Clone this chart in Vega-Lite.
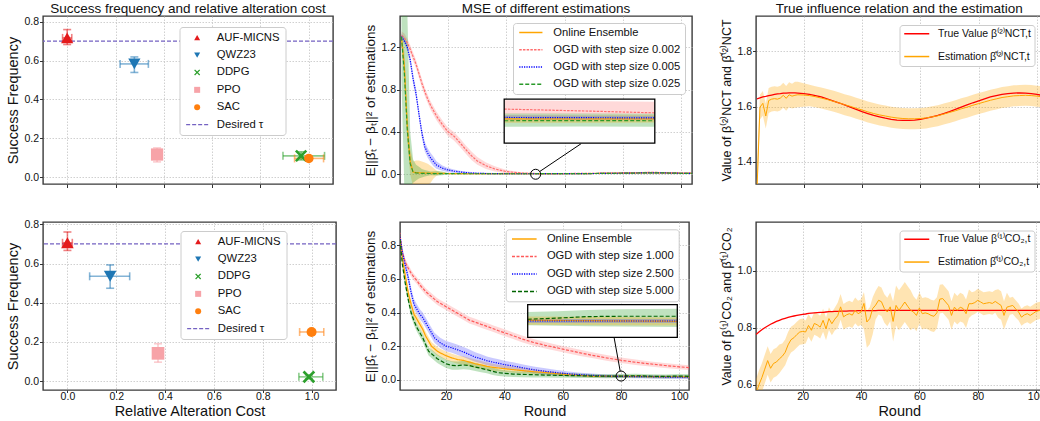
{
"$schema": "https://vega.github.io/schema/vega-lite/v6.json",
"padding": {"left": 5, "top": 0, "right": 0, "bottom": 0},
"background": "white",
"config": {
 "font": "Liberation Sans",
 "view": {"stroke": "#3a3a3a", "strokeWidth": 1.4},
 "axis": {"domain": false, "grid": true, "gridColor": "#c4c4c4", "gridDash": [1.5, 1.5], "gridWidth": 0.8, "ticks": true, "tickSize": 3.5, "tickColor": "#333333", "tickWidth": 1, "labelFontSize": 10.5, "labelColor": "#111111", "labelPadding": 1, "labelFlush": false, "labelOverlap": false, "titleFontSize": 14.5, "titleFontWeight": "normal", "titleColor": "#111111", "titlePadding": 3},
 "title": {"fontSize": 13.5, "fontWeight": "normal", "color": "#111111", "offset": 1, "anchor": "middle"},
 "legend": {"labelFontSize": 11.2, "labelColor": "#111111", "fillColor": "white", "strokeColor": "#cccccc", "cornerRadius": 3, "labelLimit": 300}
},
"datasets": {
 "sc1": [
  {"m":"AUF-MICNS","x":0.0,"y":0.717,"xlo":-0.019,"xhi":0.019,"ylo":0.683,"yhi":0.76},
  {"m":"QWZ23","x":0.278,"y":0.583,"xlo":0.219,"xhi":0.336,"ylo":0.539,"yhi":0.619},
  {"m":"DDPG","x":0.968,"y":0.109,"xlo":0.893,"xhi":1.065,"ylo":0.088,"yhi":0.13},
  {"m":"PPO","x":0.372,"y":0.116,"xlo":0.352,"xhi":0.392,"ylo":0.078,"yhi":0.15},
  {"m":"SAC","x":1.0,"y":0.096,"xlo":0.941,"xhi":1.061,"ylo":0.086,"yhi":0.106}
 ],
 "sc2": [
  {"m":"AUF-MICNS","x":0.0,"y":0.706,"xlo":-0.02,"xhi":0.02,"ylo":0.667,"yhi":0.761},
  {"m":"QWZ23","x":0.175,"y":0.535,"xlo":0.091,"xhi":0.255,"ylo":0.474,"yhi":0.593},
  {"m":"DDPG","x":0.989,"y":0.022,"xlo":0.948,"xhi":1.046,"ylo":0.012,"yhi":0.032},
  {"m":"PPO","x":0.371,"y":0.142,"xlo":0.351,"xhi":0.391,"ylo":0.097,"yhi":0.191},
  {"m":"SAC","x":1.0,"y":0.251,"xlo":0.951,"xhi":1.05,"ylo":0.241,"yhi":0.261}
 ],
 "m1": [
  {"r":4,"s":"OE","v":1.29,"lo":1.24,"hi":1.34},
  {"r":5,"s":"OE","v":1.02,"lo":0.88,"hi":1.16},
  {"r":6,"s":"OE","v":0.45,"lo":0.3,"hi":0.6},
  {"r":7,"s":"OE","v":0.12,"lo":0.0,"hi":0.24},
  {"r":8,"s":"OE","v":0.02,"lo":-0.12,"hi":0.12},
  {"r":9,"s":"OE","v":0.016,"lo":-0.12,"hi":0.13},
  {"r":10,"s":"OE","v":0.014,"lo":-0.12,"hi":0.13},
  {"r":11,"s":"OE","v":0.013,"lo":-0.12,"hi":0.12},
  {"r":12,"s":"OE","v":0.012,"lo":-0.11,"hi":0.11},
  {"r":13,"s":"OE","v":0.011,"lo":-0.1,"hi":0.1},
  {"r":14,"s":"OE","v":0.01,"lo":-0.08,"hi":0.08},
  {"r":15,"s":"OE","v":0.01,"lo":-0.04,"hi":0.06},
  {"r":16,"s":"OE","v":0.009,"lo":-0.015,"hi":0.035},
  {"r":18,"s":"OE","v":0.008,"lo":0.0,"hi":0.016},
  {"r":20,"s":"OE","v":0.007,"lo":0.002,"hi":0.012},
  {"r":22,"s":"OE","v":0.006,"lo":0.002,"hi":0.01},
  {"r":26,"s":"OE","v":0.005,"lo":0.001,"hi":0.009},
  {"r":30,"s":"OE","v":0.005,"lo":0.001,"hi":0.009},
  {"r":40,"s":"OE","v":0.005,"lo":0.001,"hi":0.009},
  {"r":50,"s":"OE","v":0.005,"lo":0.001,"hi":0.009},
  {"r":60,"s":"OE","v":0.006,"lo":0.002,"hi":0.01},
  {"r":70,"s":"OE","v":0.007,"lo":0.003,"hi":0.011},
  {"r":80,"s":"OE","v":0.01,"lo":0.006,"hi":0.014},
  {"r":85,"s":"OE","v":0.012,"lo":0.008,"hi":0.016},
  {"r":90,"s":"OE","v":0.014,"lo":0.01,"hi":0.018},
  {"r":95,"s":"OE","v":0.012,"lo":0.008,"hi":0.016},
  {"r":100,"s":"OE","v":0.009,"lo":0.005,"hi":0.013},
  {"r":104,"s":"OE","v":0.008,"lo":0.004,"hi":0.012},
  {"r":4,"s":"0.002","v":1.31,"lo":1.27,"hi":1.35},
  {"r":5,"s":"0.002","v":1.29,"lo":1.25,"hi":1.33},
  {"r":6,"s":"0.002","v":1.24,"lo":1.2,"hi":1.28},
  {"r":7,"s":"0.002","v":1.18,"lo":1.14,"hi":1.22},
  {"r":8,"s":"0.002","v":1.11,"lo":1.07,"hi":1.15},
  {"r":9,"s":"0.002","v":1.04,"lo":1.0,"hi":1.08},
  {"r":10,"s":"0.002","v":0.95,"lo":0.91,"hi":0.99},
  {"r":11,"s":"0.002","v":0.86,"lo":0.82,"hi":0.9},
  {"r":12,"s":"0.002","v":0.78,"lo":0.74,"hi":0.82},
  {"r":13,"s":"0.002","v":0.71,"lo":0.67,"hi":0.75},
  {"r":14,"s":"0.002","v":0.65,"lo":0.61,"hi":0.69},
  {"r":15,"s":"0.002","v":0.6,"lo":0.56,"hi":0.64},
  {"r":16,"s":"0.002","v":0.55,"lo":0.51,"hi":0.59},
  {"r":18,"s":"0.002","v":0.47,"lo":0.43,"hi":0.51},
  {"r":20,"s":"0.002","v":0.4,"lo":0.36,"hi":0.44},
  {"r":22,"s":"0.002","v":0.36,"lo":0.32,"hi":0.4},
  {"r":24,"s":"0.002","v":0.3,"lo":0.26,"hi":0.34},
  {"r":26,"s":"0.002","v":0.235,"lo":0.195,"hi":0.275},
  {"r":28,"s":"0.002","v":0.175,"lo":0.135,"hi":0.215},
  {"r":30,"s":"0.002","v":0.126,"lo":0.09,"hi":0.162},
  {"r":33,"s":"0.002","v":0.08,"lo":0.05,"hi":0.11},
  {"r":36,"s":"0.002","v":0.05,"lo":0.025,"hi":0.075},
  {"r":40,"s":"0.002","v":0.025,"lo":0.01,"hi":0.04},
  {"r":45,"s":"0.002","v":0.012,"lo":0.004,"hi":0.02},
  {"r":50,"s":"0.002","v":0.007,"lo":0.002,"hi":0.012},
  {"r":55,"s":"0.002","v":0.006,"lo":0.001,"hi":0.011},
  {"r":60,"s":"0.002","v":0.007,"lo":0.002,"hi":0.012},
  {"r":65,"s":"0.002","v":0.008,"lo":0.003,"hi":0.013},
  {"r":70,"s":"0.002","v":0.009,"lo":0.004,"hi":0.014},
  {"r":75,"s":"0.002","v":0.011,"lo":0.006,"hi":0.016},
  {"r":80,"s":"0.002","v":0.013,"lo":0.008,"hi":0.018},
  {"r":85,"s":"0.002","v":0.016,"lo":0.011,"hi":0.021},
  {"r":90,"s":"0.002","v":0.018,"lo":0.013,"hi":0.023},
  {"r":95,"s":"0.002","v":0.015,"lo":0.01,"hi":0.02},
  {"r":100,"s":"0.002","v":0.012,"lo":0.007,"hi":0.017},
  {"r":104,"s":"0.002","v":0.011,"lo":0.006,"hi":0.016},
  {"r":4,"s":"0.005","v":1.3,"lo":1.27,"hi":1.33},
  {"r":5,"s":"0.005","v":1.26,"lo":1.23,"hi":1.29},
  {"r":6,"s":"0.005","v":1.2,"lo":1.17,"hi":1.23},
  {"r":7,"s":"0.005","v":1.08,"lo":1.035,"hi":1.125},
  {"r":8,"s":"0.005","v":0.9,"lo":0.855,"hi":0.945},
  {"r":9,"s":"0.005","v":0.76,"lo":0.715,"hi":0.805},
  {"r":10,"s":"0.005","v":0.57,"lo":0.525,"hi":0.615},
  {"r":11,"s":"0.005","v":0.39,"lo":0.345,"hi":0.435},
  {"r":12,"s":"0.005","v":0.26,"lo":0.215,"hi":0.305},
  {"r":13,"s":"0.005","v":0.2,"lo":0.155,"hi":0.245},
  {"r":14,"s":"0.005","v":0.155,"lo":0.11,"hi":0.2},
  {"r":15,"s":"0.005","v":0.12,"lo":0.075,"hi":0.165},
  {"r":16,"s":"0.005","v":0.088,"lo":0.053,"hi":0.123},
  {"r":18,"s":"0.005","v":0.058,"lo":0.033,"hi":0.083},
  {"r":20,"s":"0.005","v":0.04,"lo":0.02,"hi":0.06},
  {"r":22,"s":"0.005","v":0.03,"lo":0.015,"hi":0.045},
  {"r":24,"s":"0.005","v":0.022,"lo":0.01,"hi":0.034},
  {"r":26,"s":"0.005","v":0.016,"lo":0.006,"hi":0.026},
  {"r":28,"s":"0.005","v":0.012,"lo":0.002,"hi":0.022},
  {"r":30,"s":"0.005","v":0.009,"lo":0.002,"hi":0.016},
  {"r":33,"s":"0.005","v":0.007,"lo":0.0,"hi":0.014},
  {"r":36,"s":"0.005","v":0.006,"lo":0.0,"hi":0.012},
  {"r":40,"s":"0.005","v":0.005,"lo":0.0,"hi":0.01},
  {"r":50,"s":"0.005","v":0.005,"lo":0.0,"hi":0.01},
  {"r":60,"s":"0.005","v":0.006,"lo":0.001,"hi":0.011},
  {"r":70,"s":"0.005","v":0.007,"lo":0.002,"hi":0.012},
  {"r":80,"s":"0.005","v":0.01,"lo":0.005,"hi":0.015},
  {"r":85,"s":"0.005","v":0.012,"lo":0.007,"hi":0.017},
  {"r":90,"s":"0.005","v":0.014,"lo":0.009,"hi":0.019},
  {"r":95,"s":"0.005","v":0.012,"lo":0.007,"hi":0.017},
  {"r":100,"s":"0.005","v":0.009,"lo":0.004,"hi":0.014},
  {"r":104,"s":"0.005","v":0.008,"lo":0.003,"hi":0.013},
  {"r":4,"s":"0.025","v":1.3,"lo":0.9,"hi":1.6},
  {"r":5,"s":"0.025","v":0.95,"lo":-0.15,"hi":1.6},
  {"r":6,"s":"0.025","v":0.42,"lo":-0.15,"hi":1.55},
  {"r":7,"s":"0.025","v":0.1,"lo":-0.12,"hi":0.4},
  {"r":8,"s":"0.025","v":0.02,"lo":-0.08,"hi":0.14},
  {"r":9,"s":"0.025","v":0.012,"lo":-0.06,"hi":0.09},
  {"r":10,"s":"0.025","v":0.01,"lo":-0.04,"hi":0.07},
  {"r":11,"s":"0.025","v":0.009,"lo":-0.03,"hi":0.05},
  {"r":12,"s":"0.025","v":0.008,"lo":-0.02,"hi":0.04},
  {"r":14,"s":"0.025","v":0.007,"lo":-0.01,"hi":0.025},
  {"r":16,"s":"0.025","v":0.006,"lo":-0.012,"hi":0.03},
  {"r":18,"s":"0.025","v":0.006,"lo":-0.01,"hi":0.025},
  {"r":20,"s":"0.025","v":0.006,"lo":0.0,"hi":0.012},
  {"r":26,"s":"0.025","v":0.005,"lo":0.0,"hi":0.01},
  {"r":40,"s":"0.025","v":0.005,"lo":0.0,"hi":0.01},
  {"r":50,"s":"0.025","v":0.005,"lo":0.0,"hi":0.01},
  {"r":60,"s":"0.025","v":0.006,"lo":0.001,"hi":0.011},
  {"r":70,"s":"0.025","v":0.007,"lo":0.002,"hi":0.012},
  {"r":80,"s":"0.025","v":0.01,"lo":0.005,"hi":0.015},
  {"r":85,"s":"0.025","v":0.012,"lo":0.007,"hi":0.017},
  {"r":90,"s":"0.025","v":0.014,"lo":0.009,"hi":0.019},
  {"r":95,"s":"0.025","v":0.012,"lo":0.007,"hi":0.017},
  {"r":100,"s":"0.025","v":0.009,"lo":0.004,"hi":0.014},
  {"r":104,"s":"0.025","v":0.008,"lo":0.003,"hi":0.013}
 ],
 "i1": [
  {"r":45,"s":"0.002","v":0.0155,"lo":0.013,"hi":0.0195},
  {"r":50,"s":"0.002","v":0.0147,"lo":0.0131,"hi":0.0192},
  {"r":55,"s":"0.002","v":0.0138,"lo":0.013,"hi":0.0188},
  {"r":45,"s":"0.025","v":0.0102,"lo":0.0075,"hi":0.0135},
  {"r":50,"s":"0.025","v":0.0103,"lo":0.0076,"hi":0.0135},
  {"r":55,"s":"0.025","v":0.0102,"lo":0.0075,"hi":0.0134},
  {"r":45,"s":"OE","v":0.0111,"lo":0.0093,"hi":0.0127},
  {"r":50,"s":"OE","v":0.011,"lo":0.0093,"hi":0.0127},
  {"r":55,"s":"OE","v":0.0111,"lo":0.0094,"hi":0.0128},
  {"r":45,"s":"0.005","v":0.0117,"lo":0.0107,"hi":0.0127},
  {"r":50,"s":"0.005","v":0.0116,"lo":0.0106,"hi":0.0126},
  {"r":55,"s":"0.005","v":0.0115,"lo":0.0105,"hi":0.0125}
 ],
 "b1": [{"x0":45,"x1":55,"y0":0,"y1":0.02}],
 "c1": [{"r":50,"v":0.0}],
 "k1": [{"r1":51.4,"v1":0.026,"r2":65.6,"v2":0.289}],
 "m2": [
  {"r":4,"s":"OE","v":0.88,"lo":0.855,"hi":0.905},
  {"r":5,"s":"OE","v":0.73,"lo":0.705,"hi":0.755},
  {"r":6,"s":"OE","v":0.62,"lo":0.595,"hi":0.645},
  {"r":7,"s":"OE","v":0.52,"lo":0.495,"hi":0.545},
  {"r":8,"s":"OE","v":0.45,"lo":0.425,"hi":0.475},
  {"r":9,"s":"OE","v":0.39,"lo":0.365,"hi":0.415},
  {"r":10,"s":"OE","v":0.36,"lo":0.335,"hi":0.385},
  {"r":11,"s":"OE","v":0.33,"lo":0.305,"hi":0.355},
  {"r":12,"s":"OE","v":0.3,"lo":0.275,"hi":0.325},
  {"r":13,"s":"OE","v":0.26,"lo":0.235,"hi":0.285},
  {"r":14,"s":"OE","v":0.23,"lo":0.205,"hi":0.255},
  {"r":15,"s":"OE","v":0.2,"lo":0.175,"hi":0.225},
  {"r":16,"s":"OE","v":0.185,"lo":0.16,"hi":0.21},
  {"r":17,"s":"OE","v":0.17,"lo":0.145,"hi":0.195},
  {"r":18,"s":"OE","v":0.16,"lo":0.135,"hi":0.185},
  {"r":20,"s":"OE","v":0.143,"lo":0.118,"hi":0.168},
  {"r":22,"s":"OE","v":0.13,"lo":0.105,"hi":0.155},
  {"r":24,"s":"OE","v":0.12,"lo":0.095,"hi":0.145},
  {"r":26,"s":"OE","v":0.115,"lo":0.09,"hi":0.14},
  {"r":28,"s":"OE","v":0.105,"lo":0.08,"hi":0.13},
  {"r":30,"s":"OE","v":0.095,"lo":0.07,"hi":0.12},
  {"r":32,"s":"OE","v":0.088,"lo":0.065,"hi":0.111},
  {"r":34,"s":"OE","v":0.08,"lo":0.058,"hi":0.102},
  {"r":36,"s":"OE","v":0.074,"lo":0.053,"hi":0.095},
  {"r":38,"s":"OE","v":0.07,"lo":0.05,"hi":0.09},
  {"r":40,"s":"OE","v":0.066,"lo":0.047,"hi":0.085},
  {"r":43,"s":"OE","v":0.06,"lo":0.042,"hi":0.078},
  {"r":46,"s":"OE","v":0.055,"lo":0.039,"hi":0.071},
  {"r":50,"s":"OE","v":0.048,"lo":0.034,"hi":0.062},
  {"r":54,"s":"OE","v":0.043,"lo":0.031,"hi":0.055},
  {"r":58,"s":"OE","v":0.036,"lo":0.026,"hi":0.046},
  {"r":62,"s":"OE","v":0.03,"lo":0.021,"hi":0.039},
  {"r":66,"s":"OE","v":0.026,"lo":0.018,"hi":0.034},
  {"r":70,"s":"OE","v":0.022,"lo":0.014,"hi":0.03},
  {"r":75,"s":"OE","v":0.021,"lo":0.013,"hi":0.029},
  {"r":80,"s":"OE","v":0.02,"lo":0.012,"hi":0.028},
  {"r":85,"s":"OE","v":0.02,"lo":0.012,"hi":0.028},
  {"r":90,"s":"OE","v":0.019,"lo":0.011,"hi":0.027},
  {"r":95,"s":"OE","v":0.018,"lo":0.01,"hi":0.026},
  {"r":100,"s":"OE","v":0.018,"lo":0.01,"hi":0.026},
  {"r":104,"s":"OE","v":0.017,"lo":0.009,"hi":0.025},
  {"r":4,"s":"1.000","v":0.88,"lo":0.86,"hi":0.9},
  {"r":5,"s":"1.000","v":0.76,"lo":0.74,"hi":0.78},
  {"r":6,"s":"1.000","v":0.7,"lo":0.68,"hi":0.72},
  {"r":7,"s":"1.000","v":0.665,"lo":0.645,"hi":0.685},
  {"r":8,"s":"1.000","v":0.635,"lo":0.615,"hi":0.655},
  {"r":9,"s":"1.000","v":0.61,"lo":0.59,"hi":0.63},
  {"r":10,"s":"1.000","v":0.59,"lo":0.57,"hi":0.61},
  {"r":11,"s":"1.000","v":0.565,"lo":0.545,"hi":0.585},
  {"r":12,"s":"1.000","v":0.545,"lo":0.525,"hi":0.565},
  {"r":13,"s":"1.000","v":0.525,"lo":0.505,"hi":0.545},
  {"r":14,"s":"1.000","v":0.51,"lo":0.49,"hi":0.53},
  {"r":15,"s":"1.000","v":0.495,"lo":0.475,"hi":0.515},
  {"r":16,"s":"1.000","v":0.48,"lo":0.46,"hi":0.5},
  {"r":17,"s":"1.000","v":0.465,"lo":0.445,"hi":0.485},
  {"r":18,"s":"1.000","v":0.455,"lo":0.435,"hi":0.475},
  {"r":20,"s":"1.000","v":0.435,"lo":0.415,"hi":0.455},
  {"r":22,"s":"1.000","v":0.415,"lo":0.395,"hi":0.435},
  {"r":24,"s":"1.000","v":0.395,"lo":0.375,"hi":0.415},
  {"r":26,"s":"1.000","v":0.375,"lo":0.355,"hi":0.395},
  {"r":28,"s":"1.000","v":0.355,"lo":0.335,"hi":0.375},
  {"r":30,"s":"1.000","v":0.343,"lo":0.323,"hi":0.363},
  {"r":32,"s":"1.000","v":0.33,"lo":0.31,"hi":0.35},
  {"r":34,"s":"1.000","v":0.318,"lo":0.298,"hi":0.338},
  {"r":36,"s":"1.000","v":0.305,"lo":0.285,"hi":0.325},
  {"r":38,"s":"1.000","v":0.292,"lo":0.272,"hi":0.312},
  {"r":40,"s":"1.000","v":0.28,"lo":0.26,"hi":0.3},
  {"r":43,"s":"1.000","v":0.262,"lo":0.242,"hi":0.282},
  {"r":46,"s":"1.000","v":0.243,"lo":0.223,"hi":0.263},
  {"r":50,"s":"1.000","v":0.222,"lo":0.202,"hi":0.242},
  {"r":54,"s":"1.000","v":0.205,"lo":0.186,"hi":0.224},
  {"r":58,"s":"1.000","v":0.19,"lo":0.171,"hi":0.209},
  {"r":62,"s":"1.000","v":0.175,"lo":0.157,"hi":0.193},
  {"r":66,"s":"1.000","v":0.16,"lo":0.142,"hi":0.178},
  {"r":70,"s":"1.000","v":0.146,"lo":0.129,"hi":0.163},
  {"r":75,"s":"1.000","v":0.13,"lo":0.113,"hi":0.147},
  {"r":80,"s":"1.000","v":0.116,"lo":0.1,"hi":0.132},
  {"r":85,"s":"1.000","v":0.104,"lo":0.088,"hi":0.12},
  {"r":90,"s":"1.000","v":0.094,"lo":0.079,"hi":0.109},
  {"r":95,"s":"1.000","v":0.085,"lo":0.07,"hi":0.1},
  {"r":100,"s":"1.000","v":0.077,"lo":0.063,"hi":0.091},
  {"r":104,"s":"1.000","v":0.071,"lo":0.057,"hi":0.085},
  {"r":4,"s":"2.500","v":0.88,"lo":0.85,"hi":0.91},
  {"r":5,"s":"2.500","v":0.76,"lo":0.73,"hi":0.79},
  {"r":6,"s":"2.500","v":0.68,"lo":0.65,"hi":0.71},
  {"r":7,"s":"2.500","v":0.61,"lo":0.58,"hi":0.64},
  {"r":8,"s":"2.500","v":0.52,"lo":0.49,"hi":0.55},
  {"r":9,"s":"2.500","v":0.45,"lo":0.42,"hi":0.48},
  {"r":10,"s":"2.500","v":0.42,"lo":0.39,"hi":0.45},
  {"r":11,"s":"2.500","v":0.39,"lo":0.36,"hi":0.42},
  {"r":12,"s":"2.500","v":0.37,"lo":0.34,"hi":0.4},
  {"r":13,"s":"2.500","v":0.34,"lo":0.31,"hi":0.37},
  {"r":14,"s":"2.500","v":0.31,"lo":0.28,"hi":0.34},
  {"r":15,"s":"2.500","v":0.28,"lo":0.25,"hi":0.31},
  {"r":16,"s":"2.500","v":0.25,"lo":0.22,"hi":0.28},
  {"r":17,"s":"2.500","v":0.235,"lo":0.205,"hi":0.265},
  {"r":18,"s":"2.500","v":0.22,"lo":0.19,"hi":0.25},
  {"r":20,"s":"2.500","v":0.2,"lo":0.17,"hi":0.23},
  {"r":22,"s":"2.500","v":0.19,"lo":0.16,"hi":0.22},
  {"r":24,"s":"2.500","v":0.178,"lo":0.148,"hi":0.208},
  {"r":26,"s":"2.500","v":0.165,"lo":0.135,"hi":0.195},
  {"r":28,"s":"2.500","v":0.15,"lo":0.12,"hi":0.18},
  {"r":30,"s":"2.500","v":0.135,"lo":0.107,"hi":0.163},
  {"r":32,"s":"2.500","v":0.125,"lo":0.098,"hi":0.152},
  {"r":34,"s":"2.500","v":0.113,"lo":0.087,"hi":0.139},
  {"r":36,"s":"2.500","v":0.105,"lo":0.08,"hi":0.13},
  {"r":38,"s":"2.500","v":0.098,"lo":0.074,"hi":0.122},
  {"r":40,"s":"2.500","v":0.09,"lo":0.067,"hi":0.113},
  {"r":43,"s":"2.500","v":0.082,"lo":0.06,"hi":0.104},
  {"r":46,"s":"2.500","v":0.072,"lo":0.051,"hi":0.093},
  {"r":50,"s":"2.500","v":0.06,"lo":0.041,"hi":0.079},
  {"r":54,"s":"2.500","v":0.05,"lo":0.032,"hi":0.068},
  {"r":58,"s":"2.500","v":0.042,"lo":0.026,"hi":0.058},
  {"r":62,"s":"2.500","v":0.035,"lo":0.021,"hi":0.049},
  {"r":66,"s":"2.500","v":0.03,"lo":0.018,"hi":0.042},
  {"r":70,"s":"2.500","v":0.026,"lo":0.015,"hi":0.037},
  {"r":75,"s":"2.500","v":0.022,"lo":0.012,"hi":0.032},
  {"r":80,"s":"2.500","v":0.02,"lo":0.01,"hi":0.03},
  {"r":85,"s":"2.500","v":0.019,"lo":0.009,"hi":0.029},
  {"r":90,"s":"2.500","v":0.018,"lo":0.008,"hi":0.028},
  {"r":95,"s":"2.500","v":0.016,"lo":0.006,"hi":0.026},
  {"r":100,"s":"2.500","v":0.015,"lo":0.005,"hi":0.025},
  {"r":104,"s":"2.500","v":0.015,"lo":0.005,"hi":0.025},
  {"r":4,"s":"5.000","v":0.87,"lo":0.845,"hi":0.895},
  {"r":5,"s":"5.000","v":0.69,"lo":0.665,"hi":0.715},
  {"r":6,"s":"5.000","v":0.575,"lo":0.55,"hi":0.6},
  {"r":7,"s":"5.000","v":0.48,"lo":0.455,"hi":0.505},
  {"r":8,"s":"5.000","v":0.4,"lo":0.375,"hi":0.425},
  {"r":9,"s":"5.000","v":0.35,"lo":0.325,"hi":0.375},
  {"r":10,"s":"5.000","v":0.31,"lo":0.285,"hi":0.335},
  {"r":11,"s":"5.000","v":0.28,"lo":0.255,"hi":0.305},
  {"r":12,"s":"5.000","v":0.25,"lo":0.225,"hi":0.275},
  {"r":13,"s":"5.000","v":0.21,"lo":0.185,"hi":0.235},
  {"r":14,"s":"5.000","v":0.17,"lo":0.145,"hi":0.195},
  {"r":15,"s":"5.000","v":0.155,"lo":0.13,"hi":0.18},
  {"r":16,"s":"5.000","v":0.14,"lo":0.115,"hi":0.165},
  {"r":17,"s":"5.000","v":0.125,"lo":0.1,"hi":0.15},
  {"r":18,"s":"5.000","v":0.115,"lo":0.09,"hi":0.14},
  {"r":20,"s":"5.000","v":0.095,"lo":0.07,"hi":0.12},
  {"r":22,"s":"5.000","v":0.085,"lo":0.06,"hi":0.11},
  {"r":24,"s":"5.000","v":0.084,"lo":0.059,"hi":0.109},
  {"r":26,"s":"5.000","v":0.088,"lo":0.063,"hi":0.113},
  {"r":28,"s":"5.000","v":0.085,"lo":0.06,"hi":0.11},
  {"r":30,"s":"5.000","v":0.076,"lo":0.052,"hi":0.1},
  {"r":32,"s":"5.000","v":0.068,"lo":0.045,"hi":0.091},
  {"r":34,"s":"5.000","v":0.06,"lo":0.038,"hi":0.082},
  {"r":36,"s":"5.000","v":0.05,"lo":0.029,"hi":0.071},
  {"r":38,"s":"5.000","v":0.042,"lo":0.022,"hi":0.062},
  {"r":40,"s":"5.000","v":0.038,"lo":0.019,"hi":0.057},
  {"r":43,"s":"5.000","v":0.034,"lo":0.016,"hi":0.052},
  {"r":46,"s":"5.000","v":0.032,"lo":0.015,"hi":0.049},
  {"r":50,"s":"5.000","v":0.03,"lo":0.014,"hi":0.046},
  {"r":54,"s":"5.000","v":0.028,"lo":0.013,"hi":0.043},
  {"r":58,"s":"5.000","v":0.026,"lo":0.012,"hi":0.04},
  {"r":62,"s":"5.000","v":0.025,"lo":0.012,"hi":0.038},
  {"r":66,"s":"5.000","v":0.024,"lo":0.011,"hi":0.037},
  {"r":70,"s":"5.000","v":0.022,"lo":0.01,"hi":0.034},
  {"r":75,"s":"5.000","v":0.021,"lo":0.009,"hi":0.033},
  {"r":80,"s":"5.000","v":0.022,"lo":0.01,"hi":0.034},
  {"r":85,"s":"5.000","v":0.024,"lo":0.012,"hi":0.036},
  {"r":90,"s":"5.000","v":0.021,"lo":0.009,"hi":0.033},
  {"r":95,"s":"5.000","v":0.02,"lo":0.008,"hi":0.032},
  {"r":100,"s":"5.000","v":0.022,"lo":0.01,"hi":0.034},
  {"r":104,"s":"5.000","v":0.02,"lo":0.008,"hi":0.032}
 ],
 "i2": [
  {"r":75,"s":"5.000","v":0.021,"lo":0.0174,"hi":0.0255},
  {"r":77,"s":"5.000","v":0.0218,"lo":0.0171,"hi":0.026},
  {"r":79,"s":"5.000","v":0.0227,"lo":0.0168,"hi":0.0268},
  {"r":81,"s":"5.000","v":0.0229,"lo":0.0166,"hi":0.0272},
  {"r":85,"s":"5.000","v":0.0229,"lo":0.0163,"hi":0.0275},
  {"r":75,"s":"OE","v":0.0204,"lo":0.0177,"hi":0.0228},
  {"r":78,"s":"OE","v":0.0203,"lo":0.0176,"hi":0.0226},
  {"r":81,"s":"OE","v":0.0201,"lo":0.0174,"hi":0.0224},
  {"r":85,"s":"OE","v":0.0198,"lo":0.0172,"hi":0.0222},
  {"r":75,"s":"2.500","v":0.02,"lo":0.0188,"hi":0.0213},
  {"r":80,"s":"2.500","v":0.02,"lo":0.0188,"hi":0.0213},
  {"r":85,"s":"2.500","v":0.02,"lo":0.0188,"hi":0.0213}
 ],
 "b2": [{"x0":75,"x1":85,"y0":0.01,"y1":0.03}],
 "c2": [{"r":80,"v":0.022}],
 "k2": [{"r1":79.7,"v1":0.0515,"r2":77.6,"v2":0.2527}],
 "r1": [
  {"r":4,"t":1.628,"e":1.3,"lo":1.25,"hi":1.4},
  {"r":5,"t":1.632,"e":1.598,"lo":1.553,"hi":1.643},
  {"r":6,"t":1.635,"e":1.612,"lo":1.567,"hi":1.657},
  {"r":7,"t":1.637,"e":1.566,"lo":1.521,"hi":1.611},
  {"r":8,"t":1.64,"e":1.622,"lo":1.577,"hi":1.667},
  {"r":9,"t":1.642,"e":1.627,"lo":1.582,"hi":1.672},
  {"r":10,"t":1.644,"e":1.629,"lo":1.584,"hi":1.674},
  {"r":11,"t":1.646,"e":1.627,"lo":1.582,"hi":1.672},
  {"r":12,"t":1.647,"e":1.631,"lo":1.586,"hi":1.676},
  {"r":13,"t":1.649,"e":1.641,"lo":1.596,"hi":1.686},
  {"r":14,"t":1.649,"e":1.63,"lo":1.585,"hi":1.675},
  {"r":15,"t":1.65,"e":1.643,"lo":1.598,"hi":1.688},
  {"r":16,"t":1.65,"e":1.638,"lo":1.593,"hi":1.683},
  {"r":17,"t":1.65,"e":1.641,"lo":1.596,"hi":1.69},
  {"r":18,"t":1.649,"e":1.643,"lo":1.598,"hi":1.69},
  {"r":20,"t":1.647,"e":1.642,"lo":1.6,"hi":1.685},
  {"r":22,"t":1.644,"e":1.64,"lo":1.601,"hi":1.679},
  {"r":24,"t":1.64,"e":1.636,"lo":1.598,"hi":1.674},
  {"r":26,"t":1.635,"e":1.631,"lo":1.593,"hi":1.669},
  {"r":28,"t":1.628,"e":1.626,"lo":1.588,"hi":1.664},
  {"r":30,"t":1.621,"e":1.62,"lo":1.582,"hi":1.658},
  {"r":32,"t":1.614,"e":1.614,"lo":1.576,"hi":1.652},
  {"r":34,"t":1.606,"e":1.607,"lo":1.569,"hi":1.645},
  {"r":36,"t":1.598,"e":1.601,"lo":1.563,"hi":1.639},
  {"r":38,"t":1.59,"e":1.594,"lo":1.556,"hi":1.632},
  {"r":40,"t":1.582,"e":1.588,"lo":1.55,"hi":1.626},
  {"r":42,"t":1.575,"e":1.581,"lo":1.543,"hi":1.619},
  {"r":44,"t":1.568,"e":1.575,"lo":1.537,"hi":1.613},
  {"r":46,"t":1.563,"e":1.57,"lo":1.532,"hi":1.608},
  {"r":48,"t":1.558,"e":1.566,"lo":1.528,"hi":1.604},
  {"r":50,"t":1.554,"e":1.562,"lo":1.524,"hi":1.6},
  {"r":52,"t":1.551,"e":1.559,"lo":1.521,"hi":1.597},
  {"r":54,"t":1.55,"e":1.557,"lo":1.519,"hi":1.595},
  {"r":56,"t":1.55,"e":1.556,"lo":1.518,"hi":1.594},
  {"r":58,"t":1.551,"e":1.556,"lo":1.518,"hi":1.594},
  {"r":60,"t":1.554,"e":1.557,"lo":1.519,"hi":1.595},
  {"r":62,"t":1.558,"e":1.559,"lo":1.521,"hi":1.597},
  {"r":64,"t":1.563,"e":1.563,"lo":1.525,"hi":1.601},
  {"r":66,"t":1.568,"e":1.567,"lo":1.529,"hi":1.605},
  {"r":68,"t":1.575,"e":1.573,"lo":1.535,"hi":1.611},
  {"r":70,"t":1.582,"e":1.579,"lo":1.541,"hi":1.617},
  {"r":72,"t":1.59,"e":1.585,"lo":1.547,"hi":1.623},
  {"r":74,"t":1.598,"e":1.592,"lo":1.554,"hi":1.63},
  {"r":76,"t":1.606,"e":1.598,"lo":1.56,"hi":1.636},
  {"r":78,"t":1.614,"e":1.605,"lo":1.567,"hi":1.643},
  {"r":80,"t":1.621,"e":1.611,"lo":1.573,"hi":1.649},
  {"r":82,"t":1.628,"e":1.617,"lo":1.579,"hi":1.655},
  {"r":84,"t":1.635,"e":1.623,"lo":1.585,"hi":1.661},
  {"r":86,"t":1.64,"e":1.628,"lo":1.59,"hi":1.666},
  {"r":88,"t":1.644,"e":1.633,"lo":1.595,"hi":1.671},
  {"r":90,"t":1.647,"e":1.636,"lo":1.598,"hi":1.674},
  {"r":92,"t":1.649,"e":1.639,"lo":1.601,"hi":1.677},
  {"r":94,"t":1.65,"e":1.64,"lo":1.602,"hi":1.678},
  {"r":96,"t":1.649,"e":1.641,"lo":1.603,"hi":1.679},
  {"r":98,"t":1.647,"e":1.64,"lo":1.602,"hi":1.678},
  {"r":100,"t":1.644,"e":1.638,"lo":1.6,"hi":1.676},
  {"r":102,"t":1.64,"e":1.635,"lo":1.597,"hi":1.673},
  {"r":103,"t":1.637,"e":1.634,"lo":1.596,"hi":1.672}
 ],
 "r2": [
  {"r":4,"t":0.776,"e":0.57,"lo":0.52,"hi":0.62},
  {"r":5,"t":0.785,"e":0.6,"lo":0.55,"hi":0.65},
  {"r":6,"t":0.793,"e":0.625,"lo":0.575,"hi":0.675},
  {"r":7,"t":0.8,"e":0.655,"lo":0.605,"hi":0.705},
  {"r":8,"t":0.806,"e":0.685,"lo":0.635,"hi":0.735},
  {"r":9,"t":0.812,"e":0.658,"lo":0.608,"hi":0.708},
  {"r":10,"t":0.817,"e":0.675,"lo":0.625,"hi":0.725},
  {"r":11,"t":0.822,"e":0.68,"lo":0.63,"hi":0.73},
  {"r":12,"t":0.826,"e":0.691,"lo":0.641,"hi":0.741},
  {"r":13,"t":0.83,"e":0.7,"lo":0.655,"hi":0.745},
  {"r":14,"t":0.833,"e":0.714,"lo":0.669,"hi":0.759},
  {"r":15,"t":0.836,"e":0.74,"lo":0.695,"hi":0.785},
  {"r":16,"t":0.839,"e":0.758,"lo":0.713,"hi":0.803},
  {"r":17,"t":0.841,"e":0.765,"lo":0.72,"hi":0.81},
  {"r":18,"t":0.843,"e":0.776,"lo":0.731,"hi":0.821},
  {"r":19,"t":0.845,"e":0.785,"lo":0.74,"hi":0.83},
  {"r":20,"t":0.847,"e":0.787,"lo":0.742,"hi":0.832},
  {"r":21,"t":0.848,"e":0.785,"lo":0.745,"hi":0.825},
  {"r":22,"t":0.85,"e":0.808,"lo":0.768,"hi":0.848},
  {"r":23,"t":0.851,"e":0.791,"lo":0.751,"hi":0.831},
  {"r":24,"t":0.852,"e":0.815,"lo":0.775,"hi":0.855},
  {"r":25,"t":0.853,"e":0.81,"lo":0.77,"hi":0.85},
  {"r":26,"t":0.854,"e":0.802,"lo":0.762,"hi":0.842},
  {"r":27,"t":0.854,"e":0.826,"lo":0.786,"hi":0.866},
  {"r":28,"t":0.855,"e":0.796,"lo":0.756,"hi":0.836},
  {"r":29,"t":0.856,"e":0.832,"lo":0.792,"hi":0.872},
  {"r":30,"t":0.856,"e":0.814,"lo":0.774,"hi":0.854},
  {"r":31,"t":0.857,"e":0.83,"lo":0.79,"hi":0.87},
  {"r":32,"t":0.857,"e":0.842,"lo":0.797,"hi":0.887},
  {"r":33,"t":0.858,"e":0.873,"lo":0.828,"hi":0.918},
  {"r":34,"t":0.858,"e":0.838,"lo":0.793,"hi":0.883},
  {"r":35,"t":0.858,"e":0.845,"lo":0.8,"hi":0.89},
  {"r":36,"t":0.859,"e":0.849,"lo":0.804,"hi":0.894},
  {"r":37,"t":0.859,"e":0.844,"lo":0.799,"hi":0.889},
  {"r":38,"t":0.859,"e":0.861,"lo":0.816,"hi":0.906},
  {"r":39,"t":0.86,"e":0.849,"lo":0.804,"hi":0.894},
  {"r":40,"t":0.86,"e":0.855,"lo":0.81,"hi":0.9},
  {"r":41,"t":0.86,"e":0.885,"lo":0.795,"hi":0.925},
  {"r":42,"t":0.86,"e":0.82,"lo":0.73,"hi":0.86},
  {"r":43,"t":0.86,"e":0.832,"lo":0.742,"hi":0.872},
  {"r":44,"t":0.86,"e":0.867,"lo":0.777,"hi":0.907},
  {"r":45,"t":0.86,"e":0.879,"lo":0.829,"hi":0.929},
  {"r":46,"t":0.861,"e":0.896,"lo":0.846,"hi":0.946},
  {"r":47,"t":0.861,"e":0.891,"lo":0.841,"hi":0.941},
  {"r":48,"t":0.861,"e":0.867,"lo":0.817,"hi":0.917},
  {"r":49,"t":0.861,"e":0.855,"lo":0.805,"hi":0.905},
  {"r":50,"t":0.861,"e":0.873,"lo":0.823,"hi":0.923},
  {"r":51,"t":0.861,"e":0.822,"lo":0.752,"hi":0.892},
  {"r":52,"t":0.861,"e":0.878,"lo":0.808,"hi":0.948},
  {"r":53,"t":0.861,"e":0.861,"lo":0.791,"hi":0.931},
  {"r":54,"t":0.861,"e":0.875,"lo":0.805,"hi":0.945},
  {"r":55,"t":0.861,"e":0.89,"lo":0.82,"hi":0.96},
  {"r":56,"t":0.861,"e":0.875,"lo":0.805,"hi":0.945},
  {"r":57,"t":0.861,"e":0.861,"lo":0.791,"hi":0.931},
  {"r":58,"t":0.861,"e":0.855,"lo":0.8,"hi":0.91},
  {"r":59,"t":0.861,"e":0.843,"lo":0.788,"hi":0.898},
  {"r":60,"t":0.861,"e":0.869,"lo":0.814,"hi":0.924},
  {"r":61,"t":0.861,"e":0.849,"lo":0.794,"hi":0.904},
  {"r":62,"t":0.861,"e":0.852,"lo":0.797,"hi":0.907},
  {"r":63,"t":0.861,"e":0.849,"lo":0.794,"hi":0.904},
  {"r":64,"t":0.861,"e":0.843,"lo":0.788,"hi":0.898},
  {"r":65,"t":0.861,"e":0.84,"lo":0.785,"hi":0.895},
  {"r":66,"t":0.861,"e":0.852,"lo":0.797,"hi":0.907},
  {"r":67,"t":0.861,"e":0.9,"lo":0.85,"hi":0.95},
  {"r":68,"t":0.861,"e":0.902,"lo":0.852,"hi":0.952},
  {"r":69,"t":0.861,"e":0.89,"lo":0.84,"hi":0.94},
  {"r":70,"t":0.861,"e":0.878,"lo":0.828,"hi":0.928},
  {"r":71,"t":0.861,"e":0.843,"lo":0.793,"hi":0.893},
  {"r":72,"t":0.861,"e":0.872,"lo":0.822,"hi":0.922},
  {"r":73,"t":0.861,"e":0.861,"lo":0.811,"hi":0.911},
  {"r":74,"t":0.861,"e":0.872,"lo":0.822,"hi":0.922},
  {"r":75,"t":0.861,"e":0.867,"lo":0.817,"hi":0.917},
  {"r":76,"t":0.861,"e":0.849,"lo":0.799,"hi":0.899},
  {"r":77,"t":0.861,"e":0.884,"lo":0.834,"hi":0.934},
  {"r":78,"t":0.861,"e":0.884,"lo":0.844,"hi":0.924},
  {"r":79,"t":0.861,"e":0.888,"lo":0.848,"hi":0.928},
  {"r":80,"t":0.861,"e":0.896,"lo":0.856,"hi":0.936},
  {"r":81,"t":0.861,"e":0.89,"lo":0.85,"hi":0.93},
  {"r":82,"t":0.861,"e":0.884,"lo":0.844,"hi":0.924},
  {"r":83,"t":0.861,"e":0.886,"lo":0.846,"hi":0.926},
  {"r":84,"t":0.861,"e":0.888,"lo":0.848,"hi":0.928},
  {"r":85,"t":0.861,"e":0.885,"lo":0.845,"hi":0.925},
  {"r":86,"t":0.861,"e":0.892,"lo":0.852,"hi":0.932},
  {"r":87,"t":0.861,"e":0.885,"lo":0.835,"hi":0.935},
  {"r":88,"t":0.861,"e":0.878,"lo":0.828,"hi":0.928},
  {"r":89,"t":0.861,"e":0.843,"lo":0.793,"hi":0.893},
  {"r":90,"t":0.861,"e":0.872,"lo":0.822,"hi":0.922},
  {"r":91,"t":0.861,"e":0.875,"lo":0.845,"hi":0.905},
  {"r":92,"t":0.861,"e":0.878,"lo":0.848,"hi":0.908},
  {"r":93,"t":0.861,"e":0.866,"lo":0.836,"hi":0.896},
  {"r":94,"t":0.861,"e":0.855,"lo":0.825,"hi":0.885},
  {"r":95,"t":0.861,"e":0.837,"lo":0.807,"hi":0.867},
  {"r":96,"t":0.861,"e":0.845,"lo":0.815,"hi":0.875},
  {"r":97,"t":0.861,"e":0.849,"lo":0.819,"hi":0.879},
  {"r":98,"t":0.861,"e":0.843,"lo":0.813,"hi":0.873},
  {"r":99,"t":0.861,"e":0.85,"lo":0.82,"hi":0.88},
  {"r":100,"t":0.861,"e":0.857,"lo":0.827,"hi":0.887},
  {"r":101,"t":0.861,"e":0.86,"lo":0.83,"hi":0.89},
  {"r":102,"t":0.861,"e":0.863,"lo":0.833,"hi":0.893},
  {"r":103,"t":0.861,"e":0.86,"lo":0.83,"hi":0.89}
 ]
},
"columns": 3,
"spacing": {"row": 38, "column": 64},
"bounds": "flush",
"align": "none",
"resolve": {"scale": {"color": "independent", "fill": "independent", "stroke": "independent", "shape": "independent", "strokeDash": "independent"}},
"concat": [
  {"width": 290, "height": 168,
   "title": "Success frequency and relative alteration cost",
   "layer": [
    {"data": {"values": [{"tau": 0.7}]}, "mark": {"type": "rule", "color": "#7462c2", "strokeDash": [4, 2], "strokeWidth": 1.2},
     "encoding": {"y": {"field": "tau", "type": "quantitative", "scale": {"domain": [-0.036, 0.83], "nice": false, "zero": false}, "axis": {"values": [0,0.1,0.2,0.3,0.4,0.5,0.6,0.7,0.8], "format": ".1f", "title": "Success Frequency"}}}},
    {"data": {"name": "sc1"}, "mark": {"type": "rule", "strokeWidth": 1.6, "opacity": 0.55},
     "encoding": {"x": {"field": "xlo", "type": "quantitative", "scale": {"domain": [-0.1, 1.1], "nice": false, "zero": false}, "axis": {"values": [0,0.2,0.4,0.6,0.8,1.0], "labels": false, "title": null}}, "x2": {"field": "xhi"}, "y": {"field": "y", "type": "quantitative"},
      "stroke": {"field": "m", "type": "nominal", "scale": {"domain": ["AUF-MICNS","QWZ23","DDPG","PPO","SAC"], "range": ["#e41a1c","#1f77b4","#2ca02c","#f7a3a8","#ff7f0e"]}, "legend": null}}},
    {"data": {"name": "sc1"}, "mark": {"type": "rule", "strokeWidth": 1.6, "opacity": 0.55},
     "encoding": {"x": {"field": "x", "type": "quantitative"}, "y": {"field": "ylo", "type": "quantitative"}, "y2": {"field": "yhi"},
      "stroke": {"field": "m", "type": "nominal", "scale": {"domain": ["AUF-MICNS","QWZ23","DDPG","PPO","SAC"], "range": ["#e41a1c","#1f77b4","#2ca02c","#f7a3a8","#ff7f0e"]}, "legend": null}}},
    {"data": {"name": "sc1"}, "mark": {"type": "tick", "orient": "vertical", "size": 8, "thickness": 1.6, "opacity": 0.55},
     "encoding": {"x": {"field": "xlo", "type": "quantitative"}, "y": {"field": "y", "type": "quantitative"},
      "fill": {"field": "m", "type": "nominal", "scale": {"domain": ["AUF-MICNS","QWZ23","DDPG","PPO","SAC"], "range": ["#e41a1c","#1f77b4","#2ca02c","#f7a3a8","#ff7f0e"]}, "legend": null}}},
    {"data": {"name": "sc1"}, "mark": {"type": "tick", "orient": "vertical", "size": 8, "thickness": 1.6, "opacity": 0.55},
     "encoding": {"x": {"field": "xhi", "type": "quantitative"}, "y": {"field": "y", "type": "quantitative"},
      "fill": {"field": "m", "type": "nominal", "scale": {"domain": ["AUF-MICNS","QWZ23","DDPG","PPO","SAC"], "range": ["#e41a1c","#1f77b4","#2ca02c","#f7a3a8","#ff7f0e"]}, "legend": null}}},
    {"data": {"name": "sc1"}, "mark": {"type": "tick", "orient": "horizontal", "size": 8, "thickness": 1.6, "opacity": 0.55},
     "encoding": {"x": {"field": "x", "type": "quantitative"}, "y": {"field": "ylo", "type": "quantitative"},
      "fill": {"field": "m", "type": "nominal", "scale": {"domain": ["AUF-MICNS","QWZ23","DDPG","PPO","SAC"], "range": ["#e41a1c","#1f77b4","#2ca02c","#f7a3a8","#ff7f0e"]}, "legend": null}}},
    {"data": {"name": "sc1"}, "mark": {"type": "tick", "orient": "horizontal", "size": 8, "thickness": 1.6, "opacity": 0.55},
     "encoding": {"x": {"field": "x", "type": "quantitative"}, "y": {"field": "yhi", "type": "quantitative"},
      "fill": {"field": "m", "type": "nominal", "scale": {"domain": ["AUF-MICNS","QWZ23","DDPG","PPO","SAC"], "range": ["#e41a1c","#1f77b4","#2ca02c","#f7a3a8","#ff7f0e"]}, "legend": null}}},
    {"data": {"name": "sc1"}, "mark": {"type": "point", "filled": true, "opacity": 1, "strokeWidth": 0},
     "encoding": {"x": {"field": "x", "type": "quantitative"}, "y": {"field": "y", "type": "quantitative"},
      "size": {"condition": {"test": "datum.m == 'SAC'", "value": 90}, "value": 150},
      "color": {"field": "m", "type": "nominal", "scale": {"domain": ["AUF-MICNS","QWZ23","DDPG","PPO","SAC","Desired τ"], "range": ["#e41a1c","#1f77b4","#2ca02c","#f7a3a8","#ff7f0e","#7462c2"]},
        "legend": {"orient": "none", "legendX": 136.5, "legendY": 11, "title": null, "padding": 5, "symbolSize": 36, "symbolOffset": 7, "labelOffset": 14, "rowPadding": 5.4, "labelFontSize": 11.3}},
      "shape": {"field": "m", "type": "nominal", "scale": {"domain": ["AUF-MICNS","QWZ23","DDPG","PPO","SAC","Desired τ"], "range": ["triangle-up","triangle-down","M-1,-0.7L-0.7,-1L0,-0.3L0.7,-1L1,-0.7L0.3,0L1,0.7L0.7,1L0,0.3L-0.7,1L-1,0.7L-0.3,0Z","square","circle","M-3.67,-0.2H-2.33V0.2H-3.67Z M-1.67,-0.2H-0.33V0.2H-1.67Z M0.33,-0.2H1.67V0.2H0.33Z M2.33,-0.2H3.67V0.2H2.33Z"]},
        "legend": {"orient": "none", "legendX": 136.5, "legendY": 11, "title": null, "padding": 5, "symbolSize": 36, "symbolOffset": 7, "labelOffset": 14, "rowPadding": 5.4, "labelFontSize": 11.3}}}}
   ]},
  {"width": 292, "height": 168,
   "title": "MSE of different estimations",
   "resolve": {"scale": {"x": "independent", "y": "independent"}},
   "layer": [
    {"layer": [
      {"data": {"name": "m1"}, "mark": {"type": "area", "clip": true},
       "encoding": {"x": {"field": "r", "type": "quantitative", "scale": {"domain": [3.5, 103.6], "nice": false, "zero": false}, "axis": {"values": [20,40,60,80,100], "labels": false, "title": null}},
        "y": {"field": "lo", "type": "quantitative", "scale": {"domain": [-0.092, 1.495], "nice": false, "zero": false}, "axis": {"values": [0,0.2,0.4,0.6,0.8,1.0,1.2,1.4], "format": ".1f", "title": "E||β̂ₜ − βₜ||² of estimations", "titleFontSize": 13.5}},
        "y2": {"field": "hi"},
        "fill": {"field": "s", "type": "nominal", "scale": {"domain": ["0.002","0.005","0.025","OE"], "range": ["#ff8080","#5050ff","#2ca02c","#ffa500"]}, "legend": null},
        "fillOpacity": {"value": 0.3}}},
      {"data": {"name": "m1"}, "mark": {"type": "line", "clip": true, "strokeWidth": 1.2},
       "encoding": {"x": {"field": "r", "type": "quantitative"}, "y": {"field": "v", "type": "quantitative"},
        "color": {"field": "s", "type": "nominal", "scale": {"domain": ["OE","0.002","0.005","0.025"], "range": ["#ffa500","#ff6f6f","#0000ff","#2a9a2a"]},
          "legend": {"orient": "none", "legendX": 113, "legendY": 7, "title": null, "padding": 4, "symbolType": "M-3.87,0H3.87", "symbolSize": 36, "symbolStrokeWidth": 1.5, "symbolOffset": 8.25, "labelOffset": 16.8, "rowPadding": 5.2, "labelFontSize": 11.2, "labelExpr": "datum.label == 'OE' ? 'Online Ensemble' : 'OGD with step size ' + datum.label"}},
        "strokeDash": {"field": "s", "type": "nominal", "scale": {"domain": ["OE","0.002","0.005","0.025"], "range": [[1,0],[2.5,1.2],[1.2,1.2],[4,2]]},
          "legend": {"orient": "none", "legendX": 113, "legendY": 7, "title": null, "padding": 4, "symbolType": "M-3.87,0H3.87", "symbolSize": 36, "symbolStrokeWidth": 1.5, "symbolOffset": 8.25, "labelOffset": 16.8, "rowPadding": 5.2, "labelFontSize": 11.2, "labelExpr": "datum.label == 'OE' ? 'Online Ensemble' : 'OGD with step size ' + datum.label"}}}},
      {"data": {"name": "c1"}, "mark": {"type": "point", "shape": "circle", "size": 100, "filled": false, "stroke": "black", "strokeWidth": 1, "opacity": 1},
       "encoding": {"x": {"field": "r", "type": "quantitative"}, "y": {"field": "v", "type": "quantitative"}}},
      {"data": {"name": "k1"}, "mark": {"type": "rule", "color": "black", "strokeWidth": 1},
       "encoding": {"x": {"field": "r1", "type": "quantitative"}, "x2": {"field": "r2"}, "y": {"field": "v1", "type": "quantitative"}, "y2": {"field": "v2"}}}
    ]},
    {"layer": [
      {"data": {"name": "b1"}, "mark": {"type": "rect", "fill": "white"},
       "encoding": {"x": {"field": "x0", "type": "quantitative", "scale": {"domain": [45, 55], "range": [104.2, 254.8], "nice": false, "zero": false}, "axis": null}, "x2": {"field": "x1"},
        "y": {"field": "y0", "type": "quantitative", "scale": {"domain": [0, 0.02], "range": [127.2, 83.2], "nice": false, "zero": false}, "axis": null}, "y2": {"field": "y1"}}},
      {"data": {"name": "i1"}, "mark": {"type": "area"},
       "encoding": {"x": {"field": "r", "type": "quantitative", "axis": null}, "y": {"field": "lo", "type": "quantitative", "axis": null}, "y2": {"field": "hi"},
        "fill": {"field": "s", "type": "nominal", "scale": {"domain": ["0.002","0.005","0.025","OE"], "range": ["#ff8080","#5050ff","#2ca02c","#ffa500"]}, "legend": null},
        "fillOpacity": {"value": 0.3}}},
      {"data": {"name": "i1"}, "mark": {"type": "line", "strokeWidth": 1.2},
       "encoding": {"x": {"field": "r", "type": "quantitative", "axis": null}, "y": {"field": "v", "type": "quantitative", "axis": null},
        "detail": {"field": "s", "type": "nominal"},
        "stroke": {"field": "s", "type": "nominal", "scale": {"domain": ["0.005","0.025","OE","0.002"], "range": ["#0000ff","#2a9a2a","#ffa500","#ff6f6f"]}, "legend": null},
        "strokeDash": {"condition": [{"test": "datum.s == '0.002'", "value": [2.5, 1.2]}, {"test": "datum.s == '0.005'", "value": [1.2, 1.2]}, {"test": "datum.s == '0.025'", "value": [4, 2]}], "value": [1, 0]}}},
      {"data": {"name": "b1"}, "mark": {"type": "rect", "filled": false, "stroke": "black", "strokeWidth": 1.3},
       "encoding": {"x": {"field": "x0", "type": "quantitative", "axis": null}, "x2": {"field": "x1"}, "y": {"field": "y0", "type": "quantitative", "axis": null}, "y2": {"field": "y1"}}}
    ]}
   ]},
  {"width": 286.5, "height": 168,
   "title": "True influence relation and the estimation",
   "data": {"name": "r1"},
   "layer": [
    {"mark": {"type": "area", "clip": true, "color": "#ffa500", "opacity": 0.3},
     "encoding": {"x": {"field": "r", "type": "quantitative", "scale": {"domain": [3.65, 101.87], "nice": false, "zero": false}, "axis": {"values": [20,40,60,80,100], "labels": false, "title": null}},
      "y": {"field": "lo", "type": "quantitative", "scale": {"domain": [1.32, 1.928], "nice": false, "zero": false}, "axis": {"values": [1.4,1.5,1.6,1.7,1.8,1.9], "format": ".1f", "title": "Value of β⁽²⁾NCT and β̂⁽²⁾NCT", "titleFontSize": 12.5}},
      "y2": {"field": "hi"}}},
    {"mark": {"type": "line", "clip": true, "strokeWidth": 1.3},
     "encoding": {"x": {"field": "r", "type": "quantitative"}, "y": {"field": "t", "type": "quantitative"},
      "color": {"datum": "True Value β⁽²⁾NCT,t", "type": "nominal", "scale": {"domain": ["True Value β⁽²⁾NCT,t", "Estimation β̂⁽²⁾NCT,t"], "range": ["#ff0000", "#ffa500"]},
        "legend": {"orient": "none", "legendX": 143.5, "legendY": 9, "title": null, "padding": 3.5, "symbolType": "M-4.17,0H4.17", "symbolSize": 36, "symbolStrokeWidth": 1.5, "symbolOffset": 8.5, "labelOffset": 16, "rowPadding": 11.8, "labelFontSize": 10.5}}}},
    {"mark": {"type": "line", "clip": true, "strokeWidth": 1},
     "encoding": {"x": {"field": "r", "type": "quantitative"}, "y": {"field": "e", "type": "quantitative"},
      "color": {"datum": "Estimation β̂⁽²⁾NCT,t", "type": "nominal", "scale": {"domain": ["True Value β⁽²⁾NCT,t", "Estimation β̂⁽²⁾NCT,t"], "range": ["#ff0000", "#ffa500"]},
        "legend": {"orient": "none", "legendX": 143.5, "legendY": 9, "title": null, "padding": 3.5, "symbolType": "M-4.17,0H4.17", "symbolSize": 36, "symbolStrokeWidth": 1.5, "symbolOffset": 8.5, "labelOffset": 16, "rowPadding": 11.8, "labelFontSize": 10.5}}}}
   ]},
  {"width": 293, "height": 168,
   "layer": [
    {"data": {"values": [{"tau": 0.7}]}, "mark": {"type": "rule", "color": "#7462c2", "strokeDash": [4, 2], "strokeWidth": 1.2},
     "encoding": {"y": {"field": "tau", "type": "quantitative", "scale": {"domain": [-0.045, 0.812], "nice": false, "zero": false}, "axis": {"values": [0,0.1,0.2,0.3,0.4,0.5,0.6,0.7,0.8], "format": ".1f", "title": "Success Frequency"}}}},
    {"data": {"name": "sc2"}, "mark": {"type": "rule", "strokeWidth": 1.6, "opacity": 0.55},
     "encoding": {"x": {"field": "xlo", "type": "quantitative", "scale": {"domain": [-0.1, 1.1], "nice": false, "zero": false}, "axis": {"values": [0,0.2,0.4,0.6,0.8,1.0], "format": ".1f", "title": "Relative Alteration Cost", "titlePadding": 2, "labelPadding": -1, "tickSize": 2.5}}, "x2": {"field": "xhi"}, "y": {"field": "y", "type": "quantitative"},
      "stroke": {"field": "m", "type": "nominal", "scale": {"domain": ["AUF-MICNS","QWZ23","DDPG","PPO","SAC"], "range": ["#e41a1c","#1f77b4","#2ca02c","#f7a3a8","#ff7f0e"]}, "legend": null}}},
    {"data": {"name": "sc2"}, "mark": {"type": "rule", "strokeWidth": 1.6, "opacity": 0.55},
     "encoding": {"x": {"field": "x", "type": "quantitative"}, "y": {"field": "ylo", "type": "quantitative"}, "y2": {"field": "yhi"},
      "stroke": {"field": "m", "type": "nominal", "scale": {"domain": ["AUF-MICNS","QWZ23","DDPG","PPO","SAC"], "range": ["#e41a1c","#1f77b4","#2ca02c","#f7a3a8","#ff7f0e"]}, "legend": null}}},
    {"data": {"name": "sc2"}, "mark": {"type": "tick", "orient": "vertical", "size": 8, "thickness": 1.6, "opacity": 0.55},
     "encoding": {"x": {"field": "xlo", "type": "quantitative"}, "y": {"field": "y", "type": "quantitative"},
      "fill": {"field": "m", "type": "nominal", "scale": {"domain": ["AUF-MICNS","QWZ23","DDPG","PPO","SAC"], "range": ["#e41a1c","#1f77b4","#2ca02c","#f7a3a8","#ff7f0e"]}, "legend": null}}},
    {"data": {"name": "sc2"}, "mark": {"type": "tick", "orient": "vertical", "size": 8, "thickness": 1.6, "opacity": 0.55},
     "encoding": {"x": {"field": "xhi", "type": "quantitative"}, "y": {"field": "y", "type": "quantitative"},
      "fill": {"field": "m", "type": "nominal", "scale": {"domain": ["AUF-MICNS","QWZ23","DDPG","PPO","SAC"], "range": ["#e41a1c","#1f77b4","#2ca02c","#f7a3a8","#ff7f0e"]}, "legend": null}}},
    {"data": {"name": "sc2"}, "mark": {"type": "tick", "orient": "horizontal", "size": 8, "thickness": 1.6, "opacity": 0.55},
     "encoding": {"x": {"field": "x", "type": "quantitative"}, "y": {"field": "ylo", "type": "quantitative"},
      "fill": {"field": "m", "type": "nominal", "scale": {"domain": ["AUF-MICNS","QWZ23","DDPG","PPO","SAC"], "range": ["#e41a1c","#1f77b4","#2ca02c","#f7a3a8","#ff7f0e"]}, "legend": null}}},
    {"data": {"name": "sc2"}, "mark": {"type": "tick", "orient": "horizontal", "size": 8, "thickness": 1.6, "opacity": 0.55},
     "encoding": {"x": {"field": "x", "type": "quantitative"}, "y": {"field": "yhi", "type": "quantitative"},
      "fill": {"field": "m", "type": "nominal", "scale": {"domain": ["AUF-MICNS","QWZ23","DDPG","PPO","SAC"], "range": ["#e41a1c","#1f77b4","#2ca02c","#f7a3a8","#ff7f0e"]}, "legend": null}}},
    {"data": {"name": "sc2"}, "mark": {"type": "point", "filled": true, "opacity": 1, "strokeWidth": 0},
     "encoding": {"x": {"field": "x", "type": "quantitative"}, "y": {"field": "y", "type": "quantitative"},
      "size": {"condition": {"test": "datum.m == 'SAC'", "value": 100}, "value": 160},
      "color": {"field": "m", "type": "nominal", "scale": {"domain": ["AUF-MICNS","QWZ23","DDPG","PPO","SAC","Desired τ"], "range": ["#e41a1c","#1f77b4","#2ca02c","#f7a3a8","#ff7f0e","#7462c2"]},
        "legend": {"orient": "none", "legendX": 137.5, "legendY": 9, "title": null, "padding": 5, "symbolSize": 36, "symbolOffset": 7, "labelOffset": 14, "rowPadding": 5.4, "labelFontSize": 11.3}},
      "shape": {"field": "m", "type": "nominal", "scale": {"domain": ["AUF-MICNS","QWZ23","DDPG","PPO","SAC","Desired τ"], "range": ["triangle-up","triangle-down","M-1,-0.7L-0.7,-1L0,-0.3L0.7,-1L1,-0.7L0.3,0L1,0.7L0.7,1L0,0.3L-0.7,1L-1,0.7L-0.3,0Z","square","circle","M-3.67,-0.2H-2.33V0.2H-3.67Z M-1.67,-0.2H-0.33V0.2H-1.67Z M0.33,-0.2H1.67V0.2H0.33Z M2.33,-0.2H3.67V0.2H2.33Z"]},
        "legend": {"orient": "none", "legendX": 137.5, "legendY": 9, "title": null, "padding": 5, "symbolSize": 36, "symbolOffset": 7, "labelOffset": 14, "rowPadding": 5.4, "labelFontSize": 11.3}}}}
   ]},
  {"width": 289, "height": 168,
   "resolve": {"scale": {"x": "independent", "y": "independent"}},
   "layer": [
    {"layer": [
      {"data": {"name": "m2"}, "mark": {"type": "area", "clip": true},
       "encoding": {"x": {"field": "r", "type": "quantitative", "scale": {"domain": [4.2, 103.3], "nice": false, "zero": false}, "axis": {"values": [20,40,60,80,100], "format": "d", "title": "Round", "titlePadding": 2, "labelPadding": -1, "tickSize": 2.5}},
        "y": {"field": "lo", "type": "quantitative", "scale": {"domain": [-0.061, 0.939], "nice": false, "zero": false}, "axis": {"values": [0,0.2,0.4,0.6,0.8], "format": ".1f", "title": "E||β̂ₜ − βₜ||² of estimations", "titleFontSize": 13.5}},
        "y2": {"field": "hi"},
        "fill": {"field": "s", "type": "nominal", "scale": {"domain": ["1.000","2.500","5.000","OE"], "range": ["#ff8080","#5050ff","#2ca02c","#ffa500"]}, "legend": null},
        "fillOpacity": {"value": 0.3}}},
      {"data": {"name": "m2"}, "mark": {"type": "line", "clip": true, "strokeWidth": 1.2},
       "encoding": {"x": {"field": "r", "type": "quantitative"}, "y": {"field": "v", "type": "quantitative"},
        "color": {"field": "s", "type": "nominal", "scale": {"domain": ["OE","1.000","2.500","5.000"], "range": ["#ffa500","#ff5a5a","#0000ff","#006400"]},
          "legend": {"orient": "none", "legendX": 105.7, "legendY": 7.3, "title": null, "padding": 4, "symbolType": "M-4.1,0H4.1", "symbolSize": 36, "symbolStrokeWidth": 1.5, "symbolOffset": 9, "labelOffset": 17, "rowPadding": 5.5, "labelFontSize": 11.2, "labelExpr": "datum.label == 'OE' ? 'Online Ensemble' : 'OGD with step size ' + datum.label"}},
        "strokeDash": {"field": "s", "type": "nominal", "scale": {"domain": ["OE","1.000","2.500","5.000"], "range": [[1,0],[3,1.5],[1.2,1.2],[4,2]]},
          "legend": {"orient": "none", "legendX": 105.7, "legendY": 7.3, "title": null, "padding": 4, "symbolType": "M-4.1,0H4.1", "symbolSize": 36, "symbolStrokeWidth": 1.5, "symbolOffset": 9, "labelOffset": 17, "rowPadding": 5.5, "labelFontSize": 11.2, "labelExpr": "datum.label == 'OE' ? 'Online Ensemble' : 'OGD with step size ' + datum.label"}}}},
      {"data": {"name": "c2"}, "mark": {"type": "point", "shape": "circle", "size": 100, "filled": false, "stroke": "black", "strokeWidth": 1, "opacity": 1},
       "encoding": {"x": {"field": "r", "type": "quantitative"}, "y": {"field": "v", "type": "quantitative"}}},
      {"data": {"name": "k2"}, "mark": {"type": "rule", "color": "black", "strokeWidth": 1},
       "encoding": {"x": {"field": "r1", "type": "quantitative"}, "x2": {"field": "r2"}, "y": {"field": "v1", "type": "quantitative"}, "y2": {"field": "v2"}}}
    ]},
    {"layer": [
      {"data": {"name": "b2"}, "mark": {"type": "rect", "fill": "white"},
       "encoding": {"x": {"field": "x0", "type": "quantitative", "scale": {"domain": [75, 85], "range": [127.7, 277.3], "nice": false, "zero": false}, "axis": null}, "x2": {"field": "x1"},
        "y": {"field": "y0", "type": "quantitative", "scale": {"domain": [0.01, 0.03], "range": [115.3, 82.7], "nice": false, "zero": false}, "axis": null}, "y2": {"field": "y1"}}},
      {"data": {"name": "i2"}, "mark": {"type": "area"},
       "encoding": {"x": {"field": "r", "type": "quantitative", "axis": null}, "y": {"field": "lo", "type": "quantitative", "axis": null}, "y2": {"field": "hi"},
        "fill": {"field": "s", "type": "nominal", "scale": {"domain": ["1.000","2.500","5.000","OE"], "range": ["#ff8080","#5050ff","#2ca02c","#ffa500"]}, "legend": null},
        "fillOpacity": {"value": 0.3}}},
      {"data": {"name": "i2"}, "mark": {"type": "line", "strokeWidth": 1.2},
       "encoding": {"x": {"field": "r", "type": "quantitative", "axis": null}, "y": {"field": "v", "type": "quantitative", "axis": null},
        "detail": {"field": "s", "type": "nominal"},
        "stroke": {"field": "s", "type": "nominal", "scale": {"domain": ["2.500","5.000","OE","1.000"], "range": ["#0000ff","#006400","#ffa500","#ff5a5a"]}, "legend": null},
        "strokeDash": {"condition": [{"test": "datum.s == '1.000'", "value": [3, 1.5]}, {"test": "datum.s == '2.500'", "value": [1.2, 1.2]}, {"test": "datum.s == '5.000'", "value": [4, 2]}], "value": [1, 0]}}},
      {"data": {"name": "b2"}, "mark": {"type": "rect", "filled": false, "stroke": "black", "strokeWidth": 1.3},
       "encoding": {"x": {"field": "x0", "type": "quantitative", "axis": null}, "x2": {"field": "x1"}, "y": {"field": "y0", "type": "quantitative", "axis": null}, "y2": {"field": "y1"}}}
    ]}
   ]},
  {"width": 286.5, "height": 168,
   "data": {"name": "r2"},
   "layer": [
    {"mark": {"type": "area", "clip": true, "color": "#ffa500", "opacity": 0.3},
     "encoding": {"x": {"field": "r", "type": "quantitative", "scale": {"domain": [4.0, 102.2], "nice": false, "zero": false}, "axis": {"values": [20,40,60,80,100], "format": "d", "title": "Round", "titlePadding": 2, "labelPadding": -1, "tickSize": 2.5}},
      "y": {"field": "lo", "type": "quantitative", "scale": {"domain": [0.582, 1.17], "nice": false, "zero": false}, "axis": {"values": [0.6,0.7,0.8,0.9,1.0,1.1], "format": ".1f", "title": "Value of β⁽¹⁾CO₂ and β̂⁽¹⁾CO₂", "titleFontSize": 12.5}},
      "y2": {"field": "hi"}}},
    {"mark": {"type": "line", "clip": true, "strokeWidth": 1.3},
     "encoding": {"x": {"field": "r", "type": "quantitative"}, "y": {"field": "t", "type": "quantitative"},
      "color": {"datum": "True Value β⁽¹⁾CO₂,t", "type": "nominal", "scale": {"domain": ["True Value β⁽¹⁾CO₂,t", "Estimation β̂⁽¹⁾CO₂,t"], "range": ["#ff0000", "#ffa500"]},
        "legend": {"orient": "none", "legendX": 143.5, "legendY": 8.5, "title": null, "padding": 3.5, "symbolType": "M-4.17,0H4.17", "symbolSize": 36, "symbolStrokeWidth": 1.5, "symbolOffset": 8.5, "labelOffset": 16, "rowPadding": 11.8, "labelFontSize": 10.5}}}},
    {"mark": {"type": "line", "clip": true, "strokeWidth": 1},
     "encoding": {"x": {"field": "r", "type": "quantitative"}, "y": {"field": "e", "type": "quantitative"},
      "color": {"datum": "Estimation β̂⁽¹⁾CO₂,t", "type": "nominal", "scale": {"domain": ["True Value β⁽¹⁾CO₂,t", "Estimation β̂⁽¹⁾CO₂,t"], "range": ["#ff0000", "#ffa500"]},
        "legend": {"orient": "none", "legendX": 143.5, "legendY": 8.5, "title": null, "padding": 3.5, "symbolType": "M-4.17,0H4.17", "symbolSize": 36, "symbolStrokeWidth": 1.5, "symbolOffset": 8.5, "labelOffset": 16, "rowPadding": 11.8, "labelFontSize": 10.5}}}}
   ]}
]
}
